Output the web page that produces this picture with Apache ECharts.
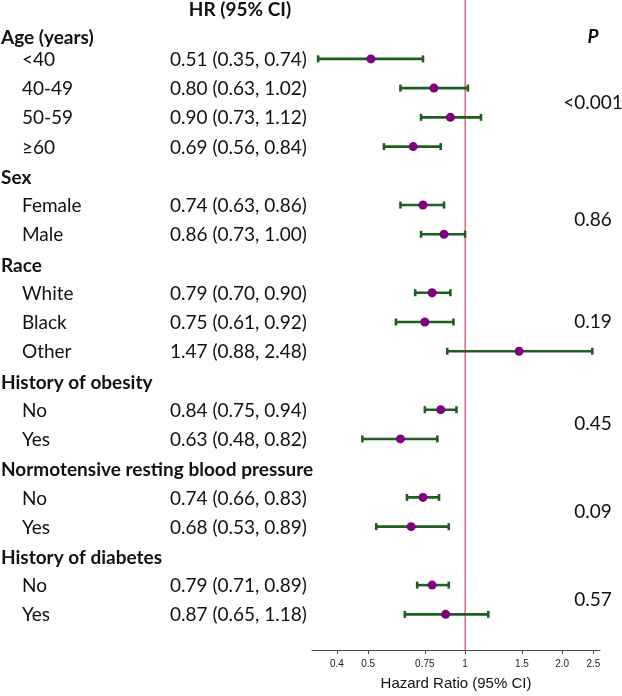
<!DOCTYPE html>
<html lang="en">
<head>
    <meta charset="UTF-8">
    <title>Forest plot</title>
    <script src="https://cdn.jsdelivr.net/npm/echarts@6/dist/echarts.min.js"></script>
    <style>
        html, body { margin: 0; padding: 0; background: #fff; }
        #main { width: 622px; height: 696px; }
    </style>
</head>
<body>
<div id="main"></div>
<script>
    // groups and their subgroup counts
    var groups = ['Age (years)', 'Sex', 'Race', 'History of obesity', 'Normotensive resting blood pressure', 'History of diabetes'];
    var groupSize = [4, 2, 3, 2, 2, 2];
    var pValues = ['<0.001', '0.86', '0.19', '0.45', '0.09', '0.57'];

    var subgroups = ['<40', '40-49', '50-59', '≥60', 'Female', 'Male', 'White', 'Black', 'Other', 'No', 'Yes', 'No', 'Yes', 'No', 'Yes'];
    var hr    = [0.51, 0.80, 0.90, 0.69, 0.74, 0.86, 0.79, 0.75, 1.47, 0.84, 0.63, 0.74, 0.68, 0.79, 0.87];
    var lower = [0.35, 0.63, 0.73, 0.56, 0.63, 0.73, 0.70, 0.61, 0.88, 0.75, 0.48, 0.66, 0.53, 0.71, 0.65];
    var upper = [0.74, 1.02, 1.12, 0.84, 0.86, 1.00, 0.90, 0.92, 2.48, 0.94, 0.82, 0.83, 0.89, 0.89, 1.18];

    var refValue = 1;   // line of no effect
    var tickValues = [0.4, 0.5, 0.75, 1, 1.5, 2, 2.5];
    var tickLabels = ['0.4', '0.5', '0.75', '1', '1.5', '2.0', '2.5'];

    var FONT = 'Lato, "Noto Sans", sans-serif';
    var SIZE = 19;
    var Y_MIN = -1.014, Y_MAX = 21.22;

    // rows: header row then one row per subgroup
    var ciData = [], pointData = [], labelData = [], headerData = [], pData = [];
    var row = 0, k = 0;
    for (var g = 0; g < groups.length; g++) {
        headerData.push([0, row, g]);
        row++;
        var first = row;
        for (var j = 0; j < groupSize[g]; j++) {
            ciData.push([Math.log10(lower[k]), Math.log10(upper[k]), row]);
            pointData.push([Math.log10(hr[k]), row]);
            labelData.push([0, row, k]);
            row++; k++;
        }
        pData.push([0, (first + row - 1) / 2, g]);
    }

    function hrText(i) {
        return hr[i].toFixed(2) + ' (' + lower[i].toFixed(2) + ', ' + upper[i].toFixed(2) + ')';
    }

    function fmtTick(v) {
        for (var i = 0; i < tickValues.length; i++) {
            if (Math.abs(Math.log10(tickValues[i]) - v) < 1e-6) return tickLabels[i];
        }
        return '';
    }

    var chart = echarts.init(document.getElementById('main'));
    chart.setOption({
        animation: false,
        grid: { left: 312, right: 22, top: 0, bottom: 40 },
        xAxis: {
            type: 'value',
            min: Math.log10(0.335),
            max: Math.log10(2.62),
            splitLine: { show: false },
            axisLine: { onZero: false, lineStyle: { color: '#444', width: 1 } },
            axisTick: {
                customValues: tickValues.map(function (v) { return Math.log10(v); }),
                length: 4,
                lineStyle: { color: '#444' }
            },
            axisLabel: {
                customValues: tickValues.map(function (v) { return Math.log10(v); }),
                formatter: fmtTick,
                color: '#222',
                fontSize: 10,
                fontFamily: 'Liberation Sans, Arial, sans-serif',
                margin: 9
            },
            name: 'Hazard Ratio (95% CI)',
            nameLocation: 'middle',
            nameGap: 26,
            nameTextStyle: { color: '#111', fontSize: 15, fontFamily: 'Liberation Sans, Arial, sans-serif' }
        },
        yAxis: {
            type: 'value',
            inverse: true,
            min: Y_MIN,
            max: Y_MAX,
            show: false
        },
        graphic: [
            {
                type: 'text', x: 240, y: 10,
                style: { text: 'HR (95% CI)', fill: '#111', font: 'bold ' + SIZE + 'px ' + FONT, textAlign: 'center', textVerticalAlign: 'middle' }
            },
            {
                type: 'text', x: 593, y: 37,
                style: { text: 'P', fill: '#111', font: 'italic bold ' + SIZE + 'px ' + FONT, textAlign: 'center', textVerticalAlign: 'middle' }
            }
        ],
        series: [
            {
                // red reference line at HR = 1
                type: 'custom',
                silent: true,
                data: [[Math.log10(refValue), 0]],
                encode: { x: 0, y: 1 },
                renderItem: function (params, api) {
                    var top = api.coord([api.value(0), Y_MIN]);
                    var bot = api.coord([api.value(0), Y_MAX]);
                    return {
                        type: 'line',
                        shape: { x1: top[0], y1: top[1], x2: bot[0], y2: bot[1] },
                        style: { stroke: '#d01848', lineWidth: 1 }
                    };
                },
                z: 2
            },
            {
                // confidence intervals with end caps
                type: 'custom',
                silent: true,
                data: ciData,
                encode: { x: [0, 1], y: 2 },
                renderItem: function (params, api) {
                    var a = api.coord([api.value(0), api.value(2)]);
                    var b = api.coord([api.value(1), api.value(2)]);
                    var h = 3.5;
                    var st = { stroke: '#1e5e1e', lineWidth: 2.6 };
                    return {
                        type: 'group',
                        children: [
                            { type: 'line', shape: { x1: a[0], y1: a[1], x2: b[0], y2: b[1] }, style: st },
                            { type: 'line', shape: { x1: a[0], y1: a[1] - h, x2: a[0], y2: a[1] + h }, style: st },
                            { type: 'line', shape: { x1: b[0], y1: b[1] - h, x2: b[0], y2: b[1] + h }, style: st }
                        ]
                    };
                },
                z: 3
            },
            {
                type: 'scatter',
                data: pointData,
                symbolSize: 9,
                itemStyle: { color: '#800080', opacity: 1 },
                z: 4
            },
            {
                // group headers
                type: 'custom',
                silent: true,
                data: headerData,
                encode: { x: 0, y: 1 },
                renderItem: function (params, api) {
                    var p = api.coord([0, api.value(1)]);
                    var g = api.value(2);
                    var off = g === 0 ? 8 : 2; // first header sits a bit lower
                    return {
                        type: 'text',
                        x: 1, y: p[1] + off,
                        style: { text: groups[g], fill: '#111', font: 'bold ' + SIZE + 'px ' + FONT, textVerticalAlign: 'middle' }
                    };
                }
            },
            {
                // subgroup label + HR text
                type: 'custom',
                silent: true,
                data: labelData,
                encode: { x: 0, y: 1 },
                renderItem: function (params, api) {
                    var p = api.coord([0, api.value(1)]);
                    var i = api.value(2);
                    return {
                        type: 'group',
                        children: [
                            { type: 'text', x: 22, y: p[1] + 1, style: { text: subgroups[i], fill: '#111', font: SIZE + 'px ' + FONT, textVerticalAlign: 'middle' } },
                            { type: 'text', x: 170, y: p[1] + 1, style: { text: hrText(i), fill: '#111', font: SIZE + 'px ' + FONT, textVerticalAlign: 'middle' } }
                        ]
                    };
                }
            },
            {
                // p values
                type: 'custom',
                silent: true,
                data: pData,
                encode: { x: 0, y: 1 },
                renderItem: function (params, api) {
                    var p = api.coord([0, api.value(1)]);
                    return {
                        type: 'text',
                        x: 593, y: p[1],
                        style: { text: pValues[api.value(2)], fill: '#111', font: SIZE + 'px ' + FONT, textAlign: 'center', textVerticalAlign: 'middle' }
                    };
                }
            }
        ]
    });
</script>
</body>
</html>
